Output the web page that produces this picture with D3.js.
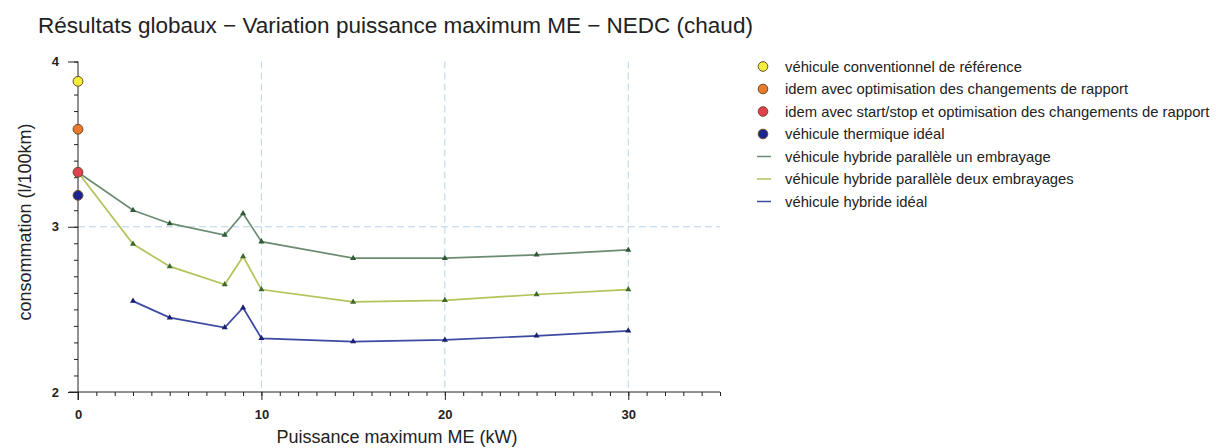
<!DOCTYPE html>
<html>
<head>
<meta charset="utf-8">
<script src="https://cdn.jsdelivr.net/npm/d3@7"></script>
<style>
  html, body { margin: 0; padding: 0; background: #fff; }
  svg { display: block; font-family: "Liberation Sans", Arial, sans-serif; }
</style>
</head>
<body>
<svg id="chart" width="1216" height="448"></svg>
<script>
// Maximum electric-motor power (kW) for the hybrid variants
const powerKW      = [0, 3, 5, 8, 9, 10, 15, 20, 25, 30];
const powerIdeal   = [3, 5, 8, 9, 10, 15, 20, 25, 30];

// Consumption (l/100km)
const oneClutch    = [3.33, 3.10, 3.02, 2.95, 3.08, 2.91, 2.81, 2.81, 2.83, 2.86];
const twoClutches  = [3.33, 2.895, 2.76, 2.65, 2.82, 2.62, 2.545, 2.555, 2.59, 2.62];
const idealHybrid  = [2.55, 2.45, 2.39, 2.51, 2.325, 2.305, 2.315, 2.34, 2.37];

// Reference vehicles at zero electric power
const refNames  = ["véhicule conventionnel de référence",
                   "idem avec optimisation des changements de rapport",
                   "idem avec start/stop et optimisation des changements de rapport",
                   "véhicule thermique idéal"];
const refValues = [3.88, 3.59, 3.33, 3.19];
const refColors = ["#f3ee3c", "#ea7a2c", "#e2424f", "#1c2590"];

const lineNames  = ["véhicule hybride parallèle un embrayage",
                    "véhicule hybride parallèle deux embrayages",
                    "véhicule hybride idéal"];
const lineColors = ["#6c8c72", "#b4c25a", "#3c4aa2"];
const markColors = ["#2f5a36", "#3f6a2a", "#1a1f70"];

const xTicks = [0, 10, 20, 30];
const yTicks = [2, 3, 4];

const svg = d3.select("#chart");

const x = d3.scaleLinear().domain([0, 35]).range([78, 720]);
const y = d3.scaleLinear().domain([2, 4]).range([392, 61.5]);

// Title
svg.append("text")
  .attr("x", 38).attr("y", 33)
  .attr("font-size", 22.5).attr("fill", "#222")
  .text("Résultats globaux − Variation puissance maximum ME − NEDC (chaud)");

// Dashed grid
const grid = svg.append("g").attr("stroke", "#b9d3e6").attr("stroke-width", 1)
  .attr("stroke-dasharray", "7,4");
grid.selectAll("line.v").data([10, 20, 30]).join("line")
  .attr("x1", d => x(d)).attr("x2", d => x(d))
  .attr("y1", y(4)).attr("y2", y(2));
grid.append("line")
  .attr("x1", x(0)).attr("x2", x(35))
  .attr("y1", y(3)).attr("y2", y(3));

// Axes with minor ticks
const xMinor = d3.range(0, 36, 1);
const yMinor = d3.range(2, 4.0001, 0.1);

const xAxisG = svg.append("g").attr("transform", `translate(0,${y(2)})`);
xAxisG.call(d3.axisBottom(x).tickValues(xMinor).tickSize(4).tickFormat(""));
xAxisG.append("g").call(d3.axisBottom(x).tickValues(xTicks).tickSize(8).tickPadding(10)
  .tickFormat(d3.format("d")));
xAxisG.selectAll(".domain").remove();
xAxisG.append("line").attr("x1", x(0) - 9).attr("x2", x(35)).attr("stroke", "#222");

const yAxisG = svg.append("g").attr("transform", `translate(${x(0)},0)`);
yAxisG.call(d3.axisLeft(y).tickValues(yMinor).tickSize(4).tickFormat(""));
yAxisG.append("g").call(d3.axisLeft(y).tickValues(yTicks).tickSize(10).tickPadding(9)
  .tickFormat(d3.format("d")));
yAxisG.selectAll(".domain").remove();
yAxisG.append("line").attr("y1", y(4)).attr("y2", y(2) + 8).attr("stroke", "#222");

svg.selectAll(".tick line").attr("stroke", "#222");
svg.selectAll(".tick text").attr("font-size", 13).attr("font-weight", "bold")
  .attr("fill", "#222").attr("font-family", "'Liberation Sans', Arial, sans-serif");

// Axis titles
svg.append("text")
  .attr("x", 397).attr("y", 443).attr("text-anchor", "middle")
  .attr("font-size", 18).attr("fill", "#222")
  .text("Puissance maximum ME (kW)");
svg.append("text")
  .attr("transform", `translate(31,222) rotate(-90)`)
  .attr("text-anchor", "middle")
  .attr("font-size", 18).attr("fill", "#222")
  .text("consommation (l/100km)");

// Hybrid series
const seriesData = [
  powerKW.map((p, i) => [p, oneClutch[i]]),
  powerKW.map((p, i) => [p, twoClutches[i]]),
  powerIdeal.map((p, i) => [p, idealHybrid[i]])
];
const line = d3.line().x(d => x(d[0])).y(d => y(d[1]));
const tri = d3.symbol().type(d3.symbolTriangle).size(16);

seriesData.forEach((pts, k) => {
  svg.append("path").datum(pts)
    .attr("fill", "none").attr("stroke", lineColors[k]).attr("stroke-width", 1.7)
    .attr("d", line);
  svg.append("g").selectAll("path").data(pts.filter(d => d[0] > 0)).join("path")
    .attr("transform", d => `translate(${x(d[0])},${y(d[1])})`)
    .attr("d", tri).attr("fill", markColors[k]);
});

// Reference points
svg.append("g").selectAll("circle").data(refValues).join("circle")
  .attr("cx", x(0)).attr("cy", d => y(d)).attr("r", 4.9)
  .attr("fill", (d, i) => refColors[i])
  .attr("stroke", "#6a4a2a").attr("stroke-width", 1);

// Legend
const legend = svg.append("g").attr("font-size", 14.8).attr("fill", "#222");
const rowY = i => 66.5 + i * 22.5;
refNames.forEach((name, i) => {
  legend.append("circle").attr("cx", 763).attr("cy", rowY(i)).attr("r", 4.8)
    .attr("fill", refColors[i]).attr("stroke", "#6a4a2a").attr("stroke-width", 1);
  legend.append("text").attr("x", 785).attr("y", rowY(i) + 5).text(name);
});
lineNames.forEach((name, j) => {
  const i = j + refNames.length;
  legend.append("line").attr("x1", 757).attr("x2", 771)
    .attr("y1", rowY(i)).attr("y2", rowY(i))
    .attr("stroke", lineColors[j]).attr("stroke-width", 1.5);
  legend.append("text").attr("x", 785).attr("y", rowY(i) + 5).text(name);
});
</script>
</body>
</html>
